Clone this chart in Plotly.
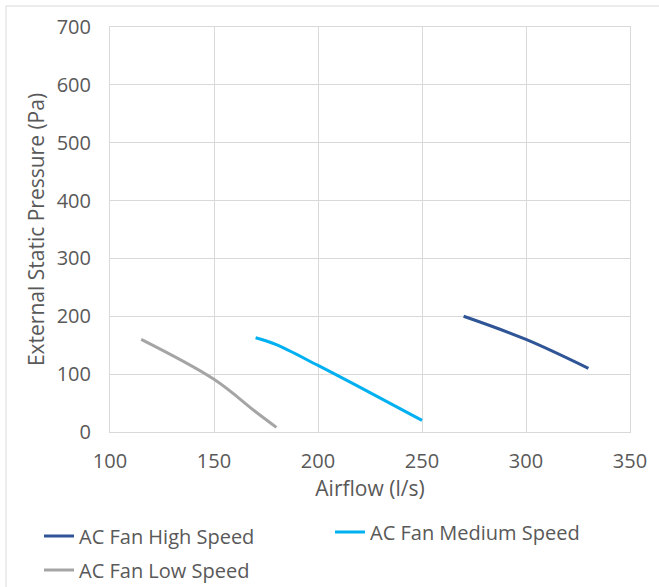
import plotly.graph_objects as go

high_x = [270, 300, 330]
high_y = [200, 160, 110]
med_x = [170, 180, 200, 225, 250]
med_y = [163, 151, 115, 68, 20]
low_x = [115, 150, 170, 180]
low_y = [160, 91, 35, 8]

x_ticks = [100, 150, 200, 250, 300, 350]
y_ticks = [0, 100, 200, 300, 400, 500, 600, 700]

FONT = "Open Sans, DejaVu Sans, sans-serif"
GRAY = "#595959"

fig = go.Figure()
fig.add_trace(go.Scatter(x=high_x, y=high_y, mode="lines", name="AC Fan High Speed",
                         line=dict(color="#2F5597", width=3, shape="spline"), legend="legend"))
fig.add_trace(go.Scatter(x=med_x, y=med_y, mode="lines", name="AC Fan Medium Speed",
                         line=dict(color="#00B0F0", width=3, shape="spline"), legend="legend2"))
fig.add_trace(go.Scatter(x=low_x, y=low_y, mode="lines", name="AC Fan Low Speed",
                         line=dict(color="#A5A5A5", width=3, shape="spline"), legend="legend3"))

leg_common = dict(orientation="h", xanchor="left", yanchor="middle",
                  font=dict(size=20, color=GRAY),
                  itemwidth=30, bgcolor="rgba(0,0,0,0)")

fig.update_layout(
    width=659, height=587,
    margin=dict(l=110, r=29, t=27, b=155, autoexpand=False),
    paper_bgcolor="white", plot_bgcolor="white",
    font=dict(family=FONT, color=GRAY, size=20),
    xaxis=dict(range=[100, 350], tickvals=x_ticks, showgrid=True, gridcolor="#D9D9D9",
               gridwidth=1, zeroline=False, showline=True, linecolor="#D9D9D9",
               ticks="", tickfont=dict(size=20, color=GRAY), ticklabelstandoff=11,
               title=dict(text="Airflow (l/s)", font=dict(size=21, color=GRAY), standoff=6),
               mirror=True, automargin=False),
    yaxis=dict(range=[0, 700], tickvals=y_ticks, showgrid=True, gridcolor="#D9D9D9",
               gridwidth=1, zeroline=False, showline=True, linecolor="#D9D9D9",
               ticks="", tickfont=dict(size=20, color=GRAY), ticklabelstandoff=14,
               title=dict(text="External Static Pressure (Pa)", font=dict(size=21, color=GRAY), standoff=6),
               mirror=True, automargin=False),
    legend=dict(x=(39 - 110) / 520, y=(432 - 536) / 405, **leg_common),
    legend2=dict(x=(330 - 110) / 520, y=(432 - 532) / 405, **leg_common),
    legend3=dict(x=(39 - 110) / 520, y=(432 - 570) / 405, **leg_common),
    showlegend=True,
)

fig.add_shape(type="rect", xref="paper", yref="paper",
              x0=(6 - 110) / 520, x1=(700 - 110) / 520,
              y0=(432 - 620) / 405, y1=(432 - 6) / 405,
              line=dict(color="#D9D9D9", width=1), fillcolor="rgba(0,0,0,0)", layer="below")

fig.write_html("out.html", post_script="document.body.style.margin='0';",
               config={"displayModeBar": False})
